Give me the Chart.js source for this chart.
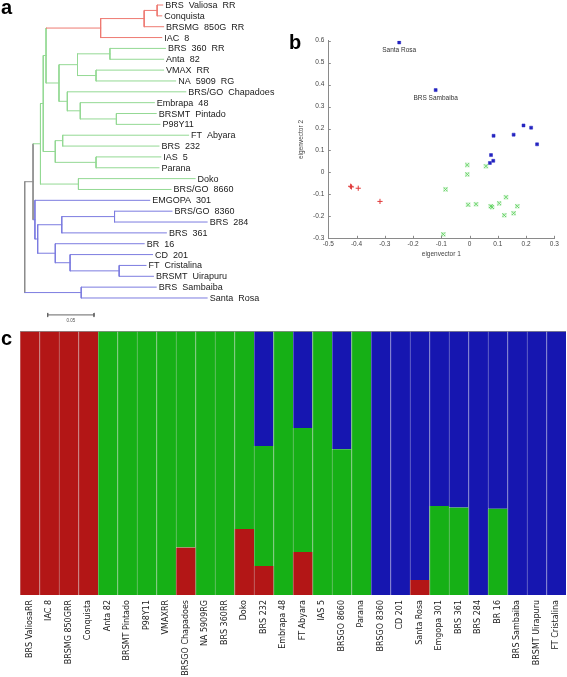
<!DOCTYPE html>
<html>
<head>
<meta charset="utf-8">
<script src="https://cdn.jsdelivr.net/npm/chart.js@4.4.0/dist/chart.umd.min.js"></script>
<style>
  html, body { margin: 0; padding: 0; background: #fff; }
  #wrap { position: relative; width: 567px; height: 677px; overflow: hidden; }
  #wrap canvas { position: absolute; }
  .tag { position: absolute; font: bold 20px "Liberation Sans", Arial, sans-serif; line-height: 1; color: #000; }
</style>
</head>
<body>
<div id="wrap">
  <canvas id="treeChart" width="290" height="330" style="left:0;top:0"></canvas>
  <canvas id="pcaChart" width="277" height="250" style="left:290px;top:20px"></canvas>
  <canvas id="structChart" width="567" height="351" style="left:0;top:326px"></canvas>
  <div class="tag" style="left:1px;top:-3px">a</div>
  <div class="tag" style="left:289px;top:32px">b</div>
  <div class="tag" style="left:1px;top:328px">c</div>
</div>
<script>
(function () {
    'use strict';
    if (typeof Chart === 'undefined') return;

    Chart.defaults.font.family = '"Liberation Sans", Arial, sans-serif';
    Chart.defaults.animation = false;
    Chart.defaults.responsive = false;
    Chart.defaults.plugins.legend.display = false;
    Chart.defaults.plugins.tooltip.enabled = false;

    /* ── a: dendrogram data (top to bottom) ─────────────── */
    var leafNames = ['BRS  Valiosa  RR','Conquista','BRSMG  850G  RR','IAC  8','BRS  360  RR','Anta  82',
        'VMAX  RR','NA  5909  RG','BRS/GO  Chapadoes','Embrapa  48','BRSMT  Pintado','P98Y11',
        'FT  Abyara','BRS  232','IAS  5','Parana','Doko','BRS/GO  8660','EMGOPA  301','BRS/GO  8360',
        'BRS  284','BRS  361','BR  16','CD  201','FT  Cristalina','BRSMT  Uirapuru','BRS  Sambaiba','Santa  Rosa'];
    var leafTips = [0.149,0.148,0.150,0.148,0.152,0.150,0.150,0.163,0.174,0.140,0.142,0.146,
        0.177,0.145,0.147,0.145,0.184,0.158,0.135,0.159,0.197,0.153,0.129,0.138,0.131,0.139,0.142,0.197];
    // merge table: [child A, child B, node distance, clade]; -n = leaf n, +n = merge n
    var treeMerges = [
        [-1,-2,0.143,'r'], [1,-3,0.129,'r'], [2,-4,0.082,'r'],
        [-5,-6,0.092,'g'], [-7,-8,0.077,'g'], [4,5,0.057,'g'],
        [-11,-12,0.099,'g'], [-10,7,0.060,'g'], [-9,8,0.046,'g'], [6,9,0.037,'g'],
        [3,10,0.023,'g'], [-13,-14,0.041,'g'], [-15,-16,0.077,'g'], [12,13,0.033,'g'],
        [11,14,0.020,'g'], [-17,-18,0.058,'g'], [15,16,0.017,'g'],
        [-20,-21,0.097,'b'], [18,-22,0.040,'b'], [-25,-26,0.102,'b'], [-24,20,0.049,'b'],
        [-23,21,0.033,'b'], [19,22,0.014,'b'], [-19,23,0.011,'b'],
        [17,24,0.009,'k'], [-27,-28,0.061,'b'], [25,26,0,'k']
    ];
    var scaleBar = [0.0248, 0.0748];

    /* ── b: PCA data ────────────────────────────────────── */
    var pcaBlue = [[-0.249,0.592],[-0.120,0.375],[0.191,0.214],[0.218,0.204],[0.156,0.172],
        [0.085,0.167],[0.239,0.128],[0.076,0.079],[0.084,0.053],[0.072,0.043]];
    var pcaBlueTags = ['Santa Rosa','BRS Sambaiba'];
    var pcaRed = [[-0.421,-0.063],[-0.418,-0.066],[-0.394,-0.072],[-0.317,-0.132]];
    var pcaGreen = [[-0.008,0.034],[-0.008,-0.009],[0.058,0.028],[-0.085,-0.077],[-0.005,-0.147],
        [0.023,-0.145],[0.075,-0.154],[0.080,-0.158],[0.105,-0.141],[0.129,-0.113],
        [0.169,-0.154],[0.156,-0.186],[0.123,-0.195],[-0.093,-0.282]];

    /* ── c: structure data ──────────────────────────────── */
    var barNames = ['BRS ValiosaRR','IAC 8','BRSMG 850GRR','Conquista','Anta 82','BRSMT Pintado','P98Y11',
        'VMAXRR','BRSGO Chapadoes','NA 5909RG','BRS 360RR','Doko','BRS 232','Embrapa 48','FT Abyara',
        'IAS 5','BRSGO 8660','Parana','BRSGO 8360','CD 201','Santa Rosa','Emgopa 301','BRS 361',
        'BRS 284','BR 16','BRS Sambaiba','BRSMT Uirapuru','FT Cristalina'];
    var redShare   = [1,1,1,1,0,0,0,0,0.18,0,0,0.25,0.11,0,0.163,0,0,0,0,0,0.057,0,0,0,0,0,0,0];
    var greenShare = [0,0,0,0,1,1,1,1,0.82,1,1,0.75,0.454,1,0.47,1,0.552,1,0,0,0,0.337,0.331,0,0.327,0,0,0];
    var blueShare  = [0,0,0,0,0,0,0,0,0,0,0,0,0.436,0,0.367,0,0.448,0,1,1,0.943,0.663,0.669,1,0.673,1,1,1];

    /* ================================================================
       a. DENDROGRAM
       ================================================================ */
    (function () {
        var el = document.getElementById('treeChart'); if (!el) return;
        var treeCol = { r:'#ee7a72', g:'#94d994', b:'#7c7ce0', k:'#8c8c8c' };
        var nodeY = [], nodeH = [];
        function cY(c) { return c < 0 ? -c - 1 : nodeY[c - 1]; }
        function cH(c) { return c < 0 ? leafTips[-c - 1] : nodeH[c - 1]; }
        treeMerges.forEach(function (m, i) { nodeY[i] = (cY(m[0]) + cY(m[1])) / 2; nodeH[i] = m[2]; });

        var sets = [];
        function seg(x0, y0, x1, y1, col) {
            sets.push({ data:[{x:x0,y:y0},{x:x1,y:y1}], borderColor:col, borderWidth:1,
                borderCapStyle:'square', pointRadius:0, fill:false });
        }
        treeMerges.forEach(function (m, i) {
            var h = m[2], col = treeCol[m[3]];
            [m[0], m[1]].forEach(function (ch) {
                var cc = ch < 0 ? col : treeCol[treeMerges[ch - 1][3]];
                seg(h, cY(ch), cH(ch), cY(ch), cc);
            });
            seg(h, cY(m[0]), h, cY(m[1]), col);
        });
        // scale bar
        seg(scaleBar[0], 28.56, scaleBar[1], 28.56, '#666');
        seg(scaleBar[0], 28.4, scaleBar[0], 28.72, '#666');
        seg(scaleBar[1], 28.4, scaleBar[1], 28.72, '#666');

        var leafText = {
            id:'leafText',
            afterDatasetsDraw:function (chart) {
                var c = chart.ctx, xs = chart.scales.x, ys = chart.scales.y;
                c.save();
                c.font = '9px "Liberation Sans", Arial, sans-serif';
                c.fillStyle = '#1a1a1a'; c.textBaseline = 'middle'; c.textAlign = 'left';
                leafNames.forEach(function (n, i) {
                    c.fillText(n, xs.getPixelForValue(leafTips[i]) + 2.5, ys.getPixelForValue(i) + 0.5);
                });
                c.font = '4.5px "Liberation Sans", Arial, sans-serif'; c.textAlign = 'center';
                c.fillStyle = '#555';
                c.fillText('0.05', xs.getPixelForValue((scaleBar[0] + scaleBar[1]) / 2), ys.getPixelForValue(29.1));
                c.restore();
            }
        };

        new Chart(el, {
            type:'line',
            data:{ datasets:sets },
            options:{
                layout:{ padding:0 },
                scales:{
                    x:{ type:'linear', display:false, min:-0.0267, max:0.2865 },
                    y:{ type:'linear', display:false, reverse:true, min:-0.461, max:29.95 }
                }
            },
            plugins:[leafText]
        });
    })();

    /* ================================================================
       b. PCA SCATTER
       ================================================================ */
    (function () {
        var el = document.getElementById('pcaChart'); if (!el) return;
        function pts(a) { return a.map(function (p) { return { x:p[0], y:p[1] }; }); }
        var tickFont = { size:6.5 };

        var inwardTicks = {
            id:'inwardTicks',
            afterDraw:function (chart) {
                var c = chart.ctx, xs = chart.scales.x, ys = chart.scales.y, a = chart.chartArea;
                c.save(); c.strokeStyle = '#8a8a8a'; c.lineWidth = 1; c.beginPath();
                xs.ticks.forEach(function (t) { var p = Math.round(xs.getPixelForValue(t.value)) + 0.5; c.moveTo(p, a.bottom); c.lineTo(p, a.bottom - 2.5); });
                ys.ticks.forEach(function (t) { var p = Math.round(ys.getPixelForValue(t.value)) + 0.5; c.moveTo(a.left, p); c.lineTo(a.left + 2.5, p); });
                c.stroke();
                c.font = '6.5px "Liberation Sans", Arial, sans-serif'; c.fillStyle = '#333';
                c.textAlign = 'center'; c.textBaseline = 'middle';
                pcaBlueTags.forEach(function (n, i) {
                    c.fillText(n, xs.getPixelForValue(pcaBlue[i][0]), ys.getPixelForValue(pcaBlue[i][1]) + 8);
                });
                c.restore();
            }
        };

        new Chart(el, {
            type:'scatter',
            data:{ datasets:[
                { data:pts(pcaGreen), pointStyle:'crossRot', pointRadius:2.6, borderColor:'#62d262', borderWidth:1 },
                { data:pts(pcaGreen), pointStyle:'rect', pointRadius:2.6, backgroundColor:'rgba(0,0,0,0)', borderColor:'rgba(98,210,98,0.45)', borderWidth:0.7 },
                { data:pts(pcaRed), pointStyle:'cross', pointRadius:2.6, borderColor:'#e03a3a', borderWidth:1 },
                { data:pts(pcaBlue), pointStyle:'rect', pointRadius:2.1, backgroundColor:'#2424c0', borderColor:'#2424c0', borderWidth:0.5 }
            ]},
            options:{
                layout:{ padding:{ left:5.8, top:20.7, right:12.7, bottom:10.1 } },
                scales:{
                    x:{ type:'linear', min:-0.5, max:0.3,
                        grid:{ display:false, drawTicks:false }, border:{ color:'#8a8a8a' },
                        ticks:{ stepSize:0.1, padding:2, font:tickFont, color:'#444' },
                        title:{ display:true, text:'eigenvector 1', font:tickFont, color:'#444', padding:2 },
                        afterFit:function (s) { s.height = 21.6; } },
                    y:{ type:'linear', min:-0.3, max:0.6,
                        grid:{ display:false, drawTicks:false }, border:{ color:'#8a8a8a' },
                        ticks:{ stepSize:0.1, padding:4, font:tickFont, color:'#444' },
                        title:{ display:true, text:'eigenvector 2', font:tickFont, color:'#444', padding:2 },
                        afterFit:function (s) { s.width = 32.5; } }
                }
            },
            plugins:[inwardTicks]
        });
    })();

    /* ================================================================
       c. STRUCTURE — stacked bars
       ================================================================ */
    (function () {
        var el = document.getElementById('structChart'); if (!el) return;
        var bw = { left:1, right:0, top:0, bottom:0 };
        var topLine = {
            id:'topLine',
            afterDatasetsDraw:function (chart) {
                var c = chart.ctx, a = chart.chartArea;
                c.save(); c.strokeStyle = 'rgba(140,140,140,0.8)'; c.lineWidth = 1;
                c.beginPath(); c.moveTo(a.left, a.top + 0.5); c.lineTo(a.right, a.top + 0.5); c.stroke();
                c.restore();
            }
        };
        new Chart(el, {
            type:'bar',
            data:{ labels:barNames, datasets:[
                { data:redShare,   backgroundColor:'#b31616', borderColor:'#c47777', borderWidth:bw, borderSkipped:false },
                { data:greenShare, backgroundColor:'#16b016', borderColor:'#76c476', borderWidth:bw, borderSkipped:false },
                { data:blueShare,  backgroundColor:'#1616b0', borderColor:'#7676cc', borderWidth:bw, borderSkipped:false }
            ]},
            options:{
                layout:{ padding:{ left:20, right:1, top:5, bottom:0 } },
                datasets:{ bar:{ barPercentage:1, categoryPercentage:1 } },
                scales:{
                    x:{ stacked:true, grid:{ display:false, drawTicks:false }, border:{ display:false },
                        ticks:{ autoSkip:false, maxRotation:90, minRotation:90, padding:5,
                                font:{ family:'"DejaVu Sans", sans-serif', size:8 }, color:'#222' },
                        afterFit:function (s) { s.height = 82; s.paddingLeft = 0; s.paddingRight = 0; } },
                    y:{ stacked:true, display:false, min:0, max:1 }
                }
            },
            plugins:[topLine]
        });
    })();
})();
</script>
</body>
</html>
